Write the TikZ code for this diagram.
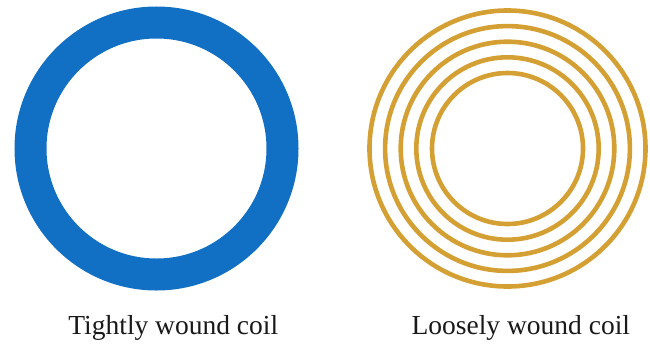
\documentclass[tikz,border=0pt]{standalone}
\usepackage{fontspec}
\setmainfont{Liberation Serif}
\definecolor{coilblue}{RGB}{17,112,196}
\definecolor{coilgold}{RGB}{212,160,52}
\begin{document}
\begin{tikzpicture}[x=1pt,y=-1pt,
  tight/.style={draw=coilblue,line width=32pt},
  loose/.style={draw=coilgold,line width=4.6pt},
  caption/.style={anchor=base,inner sep=0pt,font=\fontsize{27.5}{30}\selectfont,text=black!90}]
\useasboundingbox (0,0) rectangle (650,343);
\coordinate (L) at (156.5,148.5);
\coordinate (R) at (507.5,148.5);
\draw[tight] (L) circle[radius=126];
\foreach \r in {138,122.4,106.8,91.2,75.5}
  \draw[loose] (R) circle[radius=\r];
\node[caption] (tl) at (173.3,334) {Tightly wound coil};
\node[caption] (ll) at (520.8,334) {Loosely wound coil};
\end{tikzpicture}
\end{document}
